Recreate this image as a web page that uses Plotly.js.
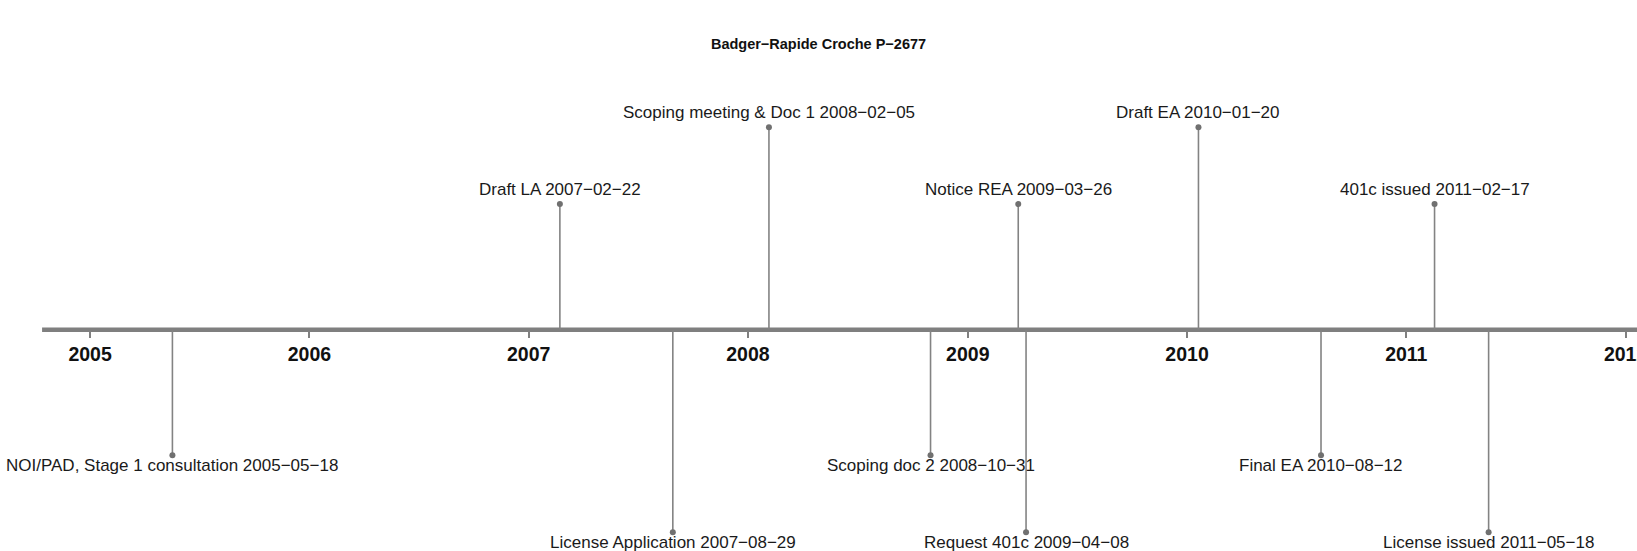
<!DOCTYPE html>
<html>
<head>
<meta charset="utf-8">
<script src="https://cdn.plot.ly/plotly-3.0.1.min.js"></script>
<style>
  html, body { margin: 0; padding: 0; background: #fff; overflow: hidden; }
  #chart { width: 1637px; height: 551px; }
</style>
</head>
<body>
<div id="chart"></div>
<script>
// ---- data ----
const chartTitle = "Badger\u2212Rapide Croche P\u22122677";
const eventNames = [
  "NOI/PAD, Stage 1 consultation",
  "Draft LA",
  "License Application",
  "Scoping meeting & Doc 1",
  "Scoping doc 2",
  "Notice REA",
  "Request 401c",
  "Draft EA",
  "Final EA",
  "401c issued",
  "License issued"
];
const eventDates = [
  "2005-05-18", "2007-02-22", "2007-08-29", "2008-02-05", "2008-10-31",
  "2009-03-26", "2009-04-08", "2010-01-20", "2010-08-12", "2011-02-17", "2011-05-18"
];
const eventLevels = [-0.62, 0.62, -1, 1, -0.62, 0.62, -1, 1, -0.62, 0.62, -1];
const yearTickDates = ["2005-01-01","2006-01-01","2007-01-01","2008-01-01","2009-01-01","2010-01-01","2011-01-01","2012-01-01"];
const yearTickLabels = ["2005","2006","2007","2008","2009","2010","2011","2012"];

// ---- build ----
const fmtDate = d => d.replace(/-/g, "\u2212");
const stemX = [], stemY = [];
eventDates.forEach((d, i) => { stemX.push(d, d, null); stemY.push(0, eventLevels[i], null); });

const yRange = [-1.093, 1.628];
const axisPos = (0 - yRange[0]) / (yRange[1] - yRange[0]);

const traces = [
  { type: "scatter", mode: "lines", x: stemX, y: stemY,
    line: { color: "#838383", width: 1.6 }, hoverinfo: "skip" },
  { type: "scatter", mode: "markers", x: eventDates, y: eventLevels,
    marker: { color: "#707070", size: 6 }, hoverinfo: "skip", cliponaxis: false }
];

const annotations = eventNames.map((n, i) => ({
  x: eventDates[i], y: eventLevels[i], xref: "x", yref: "y",
  text: n + " " + fmtDate(eventDates[i]),
  showarrow: false, xanchor: "center", yanchor: "middle",
  yshift: eventLevels[i] > 0 ? 15 : -10,
  font: { family: "Liberation Sans, Arial, sans-serif", size: 17, color: "#1a1a1a" }
}));

const layout = {
  width: 1637, height: 551,
  margin: { l: 0, r: 0, t: 0, b: 0, pad: 0 },
  paper_bgcolor: "#ffffff", plot_bgcolor: "#ffffff",
  showlegend: false,
  title: {
    text: chartTitle, x: 0.5, xanchor: "center", xref: "paper",
    y: 1 - 44 / 551, yref: "container", yanchor: "middle",
    font: { family: "Liberation Sans, Arial, sans-serif", size: 14.5, weight: "bold", color: "#111" }
  },
  xaxis: {
    type: "date", range: ["2004-08-04", "2012-01-20"],
    tickmode: "array", tickvals: yearTickDates, ticktext: yearTickLabels,
    ticks: "outside", ticklen: 7, tickwidth: 2, tickcolor: "#808080",
    showline: false, showgrid: false, zeroline: false,
    anchor: "free", position: axisPos, ticklabelstandoff: 0,
    ticklabeloverflow: "allow",
    tickfont: { family: "Liberation Sans, Arial, sans-serif", size: 19.5, weight: "bold", color: "#111" },
    fixedrange: true
  },
  yaxis: { visible: false, range: yRange, fixedrange: true, showgrid: false, zeroline: false },
  shapes: [
    { type: "line", xref: "paper", yref: "y", x0: 0.0257, x1: 1.05, y0: 0, y1: 0,
      line: { color: "#7f7f7f", width: 4.5 }, layer: "below" }
  ],
  annotations: annotations
};

Plotly.newPlot("chart", traces, layout, { staticPlot: true, displayModeBar: false });
</script>
</body>
</html>
